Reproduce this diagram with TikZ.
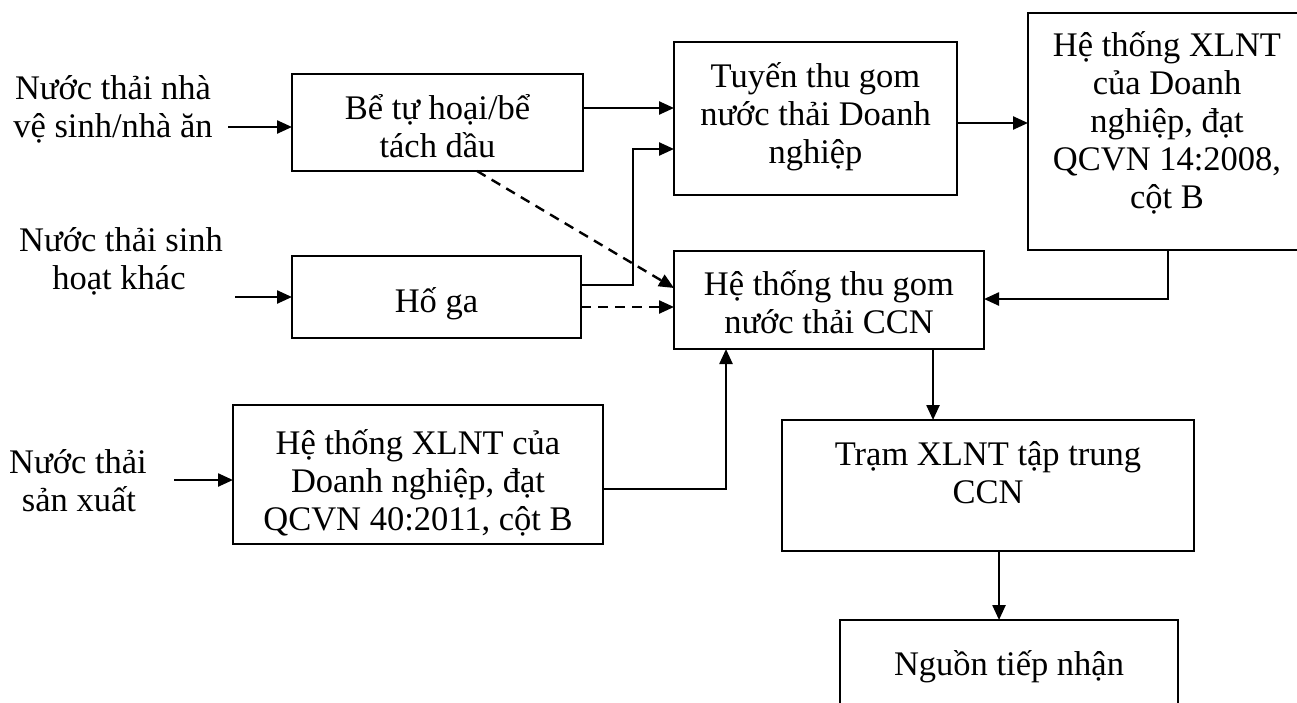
\documentclass[tikz,border=0pt]{standalone}
\usepackage{fontspec}
\setmainfont{Liberation Serif}
\usetikzlibrary{arrows.meta}
\begin{document}
\begin{tikzpicture}[x=1pt,y=-1pt,
  box/.style={draw, line width=1.8pt, rectangle, inner sep=0pt, outer sep=0pt},
  lbl/.style={anchor=base, inner sep=0pt, font=\fontsize{34.5}{39.5}\selectfont},
  arr/.style={line width=2.4pt, -{Triangle[length=15pt,width=13pt]}},
  darr/.style={arr, dash pattern=on 10pt off 7pt}]
\useasboundingbox (0,0) rectangle (1297,702);
\clip (0,0) rectangle (1297,702);

% boxes
\node[box, minimum width=291pt, minimum height=97pt]  (be)    at (437.5,122.5) {};
\node[box, minimum width=283pt, minimum height=153pt] (tuyen) at (815.5,118.5) {};
\node[box, minimum width=400pt, minimum height=237pt] (xlnt)  at (1228,131.5) {};
\node[box, minimum width=289pt, minimum height=82pt]  (hoga)  at (436.5,297) {};
\node[box, minimum width=310pt, minimum height=98pt]  (ccn)   at (829,300) {};
\node[box, minimum width=370pt, minimum height=139pt] (qcvn)  at (418,474.5) {};
\node[box, minimum width=412pt, minimum height=131pt] (tram)  at (988,485.5) {};
\node[box, minimum width=338pt, minimum height=120pt] (nguon) at (1009,680) {};

% texts
\node[lbl] (i1a) at (113,99)  {Nước thải nhà};
\node[lbl] (i1b) at (113,137) {vệ sinh/nhà ăn};
\node[lbl] (i2a) at (121,251) {Nước thải sinh};
\node[lbl] (i2b) at (119,289) {hoạt khác};
\node[lbl] (i3a) at (78,473)  {Nước thải};
\node[lbl] (i3b) at (79,511)  {sản xuất};

\node[lbl] (bea) at (437.5,119) {Bể tự hoại/bể};
\node[lbl] (beb) at (437.5,157) {tách dầu};

\node[lbl] (tua) at (815.5,87)    {Tuyến thu gom};
\node[lbl] (tub) at (815.5,125)   {nước thải Doanh};
\node[lbl] (tuc) at (815.5,163)   {nghiệp};

\node[lbl] (xla) at (1167,56)    {Hệ thống XLNT};
\node[lbl] (xlb) at (1167,94)    {của Doanh};
\node[lbl] (xlc) at (1167,132)   {nghiệp, đạt};
\node[lbl] (xld) at (1167,170)   {QCVN 14:2008,};
\node[lbl] (xle) at (1167,208)   {cột B};

\node[lbl] (hga) at (436.5,312) {Hố ga};

\node[lbl] (cca) at (829,295) {Hệ thống thu gom};
\node[lbl] (ccb) at (829,333) {nước thải CCN};

\node[lbl] (qca) at (418,454) {Hệ thống XLNT của};
\node[lbl] (qcb) at (418,492) {Doanh nghiệp, đạt};
\node[lbl] (qcc) at (418,530) {QCVN 40:2011, cột B};

\node[lbl] (tra) at (988,465) {Trạm XLNT tập trung};
\node[lbl] (trb) at (988,503) {CCN};

\node[lbl] (nga) at (1009,675) {Nguồn tiếp nhận};

% helper coordinates
\coordinate (a1) at (228,127);
\coordinate (a2) at (235,297);
\coordinate (a3) at (174,480);
\coordinate (y109) at (0,108);
\coordinate (y149) at (0,149);
\coordinate (k1) at (633,285);
\coordinate (d1) at (477,171);
\coordinate (y288) at (0,288);
\coordinate (y307) at (0,307);
\coordinate (y121) at (0,123);
\coordinate (r1) at (1113,250);
\coordinate (rb) at (1168,250);
\coordinate (y300) at (0,299);
\coordinate (x933) at (933,0);
\coordinate (y489) at (0,489);
\coordinate (x726) at (726,0);
\coordinate (x999) at (999,0);

% connectors
\draw[arr] (a1) -- (a1 -| be.west);
\draw[arr] (a2) -- (a2 -| hoga.west);
\draw[arr] (a3) -- (a3 -| qcvn.west);
\draw[arr] (be.east |- y109) -- (tuyen.west |- y109);
\draw[arr] (hoga.east |- k1) -- (k1) |- (tuyen.west |- y149);
\draw[darr] (d1) -- (ccn.west |- y288);
\draw[darr] (hoga.east |- y307) -- (ccn.west |- y307);
\draw[arr] (tuyen.east |- y121) -- (xlnt.west |- y121);
\draw[arr] (r1) -- (rb) |- (ccn.east |- y300);
\draw[arr] (ccn.south -| x933) -- (tram.north -| x933);
\draw[arr] (qcvn.east |- y489) -| (ccn.south -| x726);
\draw[arr] (tram.south -| x999) -- (nguon.north -| x999);
\end{tikzpicture}
\end{document}
